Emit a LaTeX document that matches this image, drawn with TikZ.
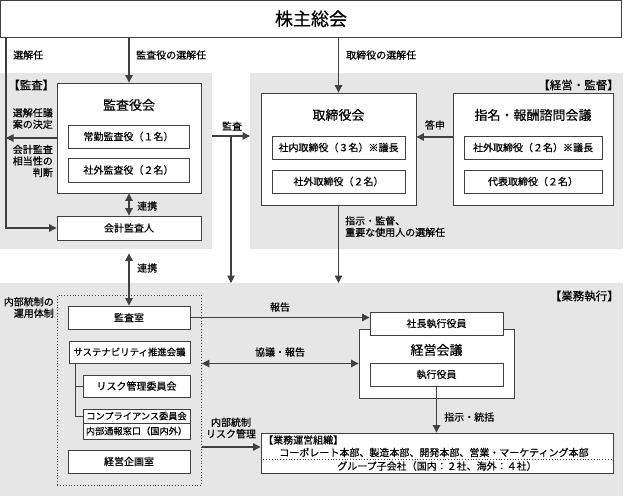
\documentclass[tikz,border=0pt]{standalone}
\usepackage{fontspec}
\setmainfont{Noto Sans CJK JP}[FakeBold=0.45]
\usetikzlibrary{arrows.meta,calc}
\definecolor{panelgray}{HTML}{E6E6E6}
\definecolor{linegray}{HTML}{404040}
\newcommand\labelsize{\fontsize{10}{11.5}\selectfont}
\newcommand\narrowsize{\fontsize{9.4}{11}\selectfont}
\newcommand\titlesize{\fontsize{13}{15}\selectfont}
\newcommand\panelsize{\fontsize{11.5}{13}\selectfont}

\begin{document}
\begin{tikzpicture}[x=1pt,y=-1pt,
  panel/.style={fill=panelgray,inner sep=0,anchor=north west},
  box/.style={draw=linegray,fill=white,line width=0.9pt,inner sep=0,font=\labelsize},
  lbl/.style={inner sep=0,font=\labelsize},
  title/.style={inner sep=0,font=\titlesize},
  line/.style={draw=linegray,line width=1.1pt},
  arr/.style={line,-{Triangle[length=7.5pt,width=7.5pt]}},
  arr2/.style={line,{Triangle[length=7.5pt,width=7.5pt]}-{Triangle[length=7.5pt,width=7.5pt]}}]
 \useasboundingbox (0,0) rectangle (624,496);

 % panels
 \node[panel,minimum width=212,minimum height=176] (kansaP) at (0,73) {};
 \node[panel,minimum width=373,minimum height=176] (keieiP) at (250,73) {};
 \node[panel,minimum width=623,minimum height=213] (gyomuP) at (0,283) {};
 \node[inner sep=0,font=\panelsize,anchor=west] (kansaL) at (8,85) {【監査】};
 \node[inner sep=0,font=\panelsize,anchor=east] (keieiL) at (619,85) {【経営・監督】};
 \node[inner sep=0,font=\panelsize,anchor=east] (gyomuL) at (619,296) {【業務執行】};

 % shareholders
 \node[box,minimum width=621,minimum height=36.5,font=\fontsize{18}{20}\selectfont] (kabunushi) at (311,18.75) {株主総会};
 \coordinate (leftline) at (6,37);
 \node[lbl,anchor=west] (senkaiL) at (13,55) {選解任};
 \node[lbl,anchor=west] (kansaSenL) at (136,55) {監査役の選解任};
 \node[lbl,anchor=west] (toriSenL) at (346,55) {取締役の選解任};

 % audit
 \node[box,minimum width=144,minimum height=110] (kansayakukai) at (129,138) {};
 \node[title] (kansayakukaiT) at (129,105) {監査役会};
 \node[box,minimum width=121,minimum height=23] (joukin) at (128.5,136.5) {常勤監査役（１名）};
 \node[box,minimum width=121,minimum height=24] (shagaiK) at (128.5,170) {社外監査役（２名）};
 \node[box,minimum width=144,minimum height=24] (kaikei) at (129,228) {会計監査人};
 \node[lbl,anchor=east,align=right] (giansL) at (53,118.5) {選解任議\\案の決定};
 \node[lbl,anchor=east,align=right] (soutouL) at (53,161) {会計監査\\相当性の\\判断};
 \node[lbl,anchor=west] (renkeiL) at (137,206) {連携};

 % board
 \node[box,minimum width=155,minimum height=112] (torishimari) at (338.5,149) {};
 \node[title] (torishimariT) at (338.5,115) {取締役会};
 \node[box,minimum width=133,minimum height=23] (shanai) at (338.5,147.5) {社内取締役（３名）※議長};
 \node[box,minimum width=133,minimum height=23] (shagaiT) at (338.5,181.5) {社外取締役（２名）};
 \node[box,minimum width=160,minimum height=112] (shimei) at (533,149) {};
 \node[title] (shimeiT) at (533,115) {指名・報酬諮問会議};
 \node[box,minimum width=138,minimum height=23] (shimeiA) at (533,147.5) {社外取締役（２名）※議長};
 \node[box,minimum width=138,minimum height=23] (shimeiB) at (533,181.5) {代表取締役（２名）};
 \node[lbl] (toushinL) at (435,125) {答申};
 \node[lbl] (kansaArrL) at (232,126) {監査};
 \node[lbl,anchor=north west,align=left] (shijiL) at (345,216) {指示・監督、\\重要な使用人の選解任};
 \coordinate (kansaArr) at (231,136);

 % execution
 \node[draw=linegray,dotted,line width=0.8pt,inner sep=0,minimum width=144,minimum height=190,anchor=north west] (naibu) at (57,295) {};
 \node[lbl,anchor=east,align=right] (naibuL) at (54,307.5) {内部統制の\\運用体制};
 \node[box,minimum width=122,minimum height=23] (kansashitsu) at (129,317.5) {監査室};
 \node[box,minimum width=121,minimum height=22,font=\narrowsize] (sustain) at (129.5,352) {サステナビリティ推進会議};
 \node[box,minimum width=107,minimum height=22] (risk) at (136.5,386) {リスク管理委員会};
 \node[box,minimum width=107,minimum height=14,font=\fontsize{9.2}{10}\selectfont] (compl) at (136.5,416) {コンプライアンス委員会};
 \node[box,minimum width=107,minimum height=16,font=\fontsize{9.2}{10}\selectfont] (tsuho) at (136.5,431) {内部通報窓口（国内外）};
 \node[box,minimum width=122,minimum height=23] (kikaku) at (129,461.5) {経営企画室};
 \node[lbl,anchor=west] (renkei2L) at (137,268) {連携};

 \node[box,minimum width=155,minimum height=69] (keieikaigi) at (436.5,363.5) {};
 \node[title] (keieikaigiT) at (436.5,350) {経営会議};
 \node[box,minimum width=133,minimum height=23] (shacho) at (436.5,323.5) {社長執行役員};
 \node[box,minimum width=133,minimum height=23] (shikko) at (436.5,374.5) {執行役員};
 \node[box,minimum width=352,minimum height=40] (soshiki) at (437,453) {};
 \node[lbl,anchor=west] (soshikiT) at (263,440) {【業務運営組織】};
 \node[lbl] (honbu) at (434,452.5) {コーポレート本部、製造本部、開発本部、営業・マーケティング本部};
 \node[lbl] (group) at (437,466) {グループ子会社（国内：２社、海外：４社）};
 \node[lbl] (houkokuL) at (280,307) {報告};
 \node[lbl] (kyogiL) at (280,352) {協議・報告};
 \node[lbl,align=center] (toseiL) at (231,428) {内部統制\\リスク管理};
 \node[lbl,anchor=west] (toukatsuL) at (444,417) {指示・統括};

 % connectors
 \draw[arr] (kabunushi.south -| leftline) |- (kaikei.west);
 \draw[arr] (kansayakukai.west) -- (kansayakukai.west -| leftline);
 \draw[arr] (kabunushi.south -| kansayakukai.north) -- (kansayakukai.north);
 \draw[arr] (kabunushi.south -| torishimari.north) -- (torishimari.north);
 \draw[arr2] (kansayakukai.south) -- (kaikei.north);
 \draw[arr] (kansaP.east |- kansaArr) -- (keieiP.west |- kansaArr);
 \draw[arr] (kansaArr) -- (kansaArr |- gyomuP.north);
 \draw[arr] ([yshift=12pt]shimei.west) -- ([yshift=12pt]shimei.west -| torishimari.east);
 \draw[arr] (torishimari.south) -- (torishimari.south |- gyomuP.north);
 \draw[arr2] ($(kansaP.south -| kansashitsu.north)+(0,4)$) -- (kansashitsu.north);
 \draw[arr] (kansashitsu.east) -- (kansashitsu.east -| shacho.west);
 \draw[arr2] (naibu.east |- keieikaigi.west) -- (keieikaigi.west);
 \draw[arr] (shikko.south) -- (shikko.south |- soshiki.north);
 \draw[arr] ([yshift=6pt]soshiki.west -| naibu.east) -- ([yshift=6pt]soshiki.west);
 \draw[line,line width=0.8pt] ($(sustain.south west)+(7,0)$) |- (compl.west);
 \draw[line,line width=0.8pt] ($(sustain.south west)+(7,0)$) |- (risk.west);
 \draw[linegray,dotted,line width=0.8pt] ($(soshiki.west)+(0,6)$) -- ($(soshiki.east)+(0,6)$);
\end{tikzpicture}
\end{document}
